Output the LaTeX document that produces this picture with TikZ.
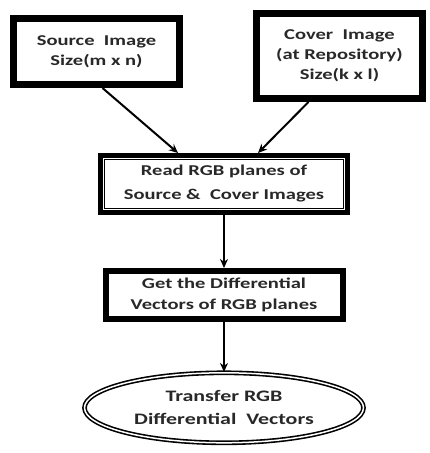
\documentclass[tikz,border=0pt]{standalone}
\usepackage{fontspec}
\setmainfont{Carlito}[FakeStretch=1.37]
\usepackage{tikz}
\usetikzlibrary{shapes.geometric,arrows.meta,positioning,calc}
\usepackage{xcolor}
\definecolor{inkgray}{RGB}{40,40,40}
\tikzset{
  heavybox/.style = {rectangle, draw, line width=7pt, fill=white, text=inkgray,
    align=center, font=\fontsize{15}{20}\selectfont\bfseries, inner sep=0pt},
  framedbox/.style = {rectangle, draw, line width=5pt, fill=white, text=inkgray,
    align=center, font=\fontsize{15}{24}\selectfont\bfseries, inner sep=0pt},
  plainbox/.style = {rectangle, draw, line width=6pt, fill=white, text=inkgray,
    align=center, font=\fontsize{15}{21}\selectfont\bfseries, inner sep=0pt},
  terminal/.style = {ellipse, draw, double, double distance=1.5pt, line width=1.6pt,
    text=inkgray, align=center, font=\fontsize{16}{23}\selectfont\bfseries, inner sep=0pt},
  arrow/.style = {line width=2pt, -{Stealth[length=9pt, width=8pt]}}
}

\begin{document}
\begin{tikzpicture}[x=1pt, y=-1pt, node distance=53pt]
\useasboundingbox (0,0) rectangle (429,453);

\node[heavybox, minimum width=166pt, minimum height=66pt] (src) at (96.5,51.5)
  {Source\ \ Image\\ Size(m x n)};
\node[heavybox, minimum width=166pt, minimum height=85pt] (cov) at (339.5,56)
  {Cover\ \ Image\\ (at Repository)\\ Size(k x l)};

\node[framedbox, minimum width=247pt, minimum height=57pt] (read) at (224,184)
  {Read RGB planes of\\ Source \&\ \ Cover Images};
\draw[line width=1.5pt] ([shift={(6.5pt,-6.5pt)}]read.north west) rectangle ([shift={(-6.5pt,6.5pt)}]read.south east);

\node[plainbox, below=of read, minimum width=237pt, minimum height=48pt] (diff)
  {Get the Differential\\ Vectors of RGB planes};
\node[terminal, below=50pt of diff, minimum width=279pt, minimum height=70pt] (send)
  {Transfer RGB\\ Differential\ \ Vectors};

\draw[arrow] ([xshift=6pt]src.south)   -- ([xshift=-46pt]read.north);
\draw[arrow] ([xshift=-31pt]cov.south) -- ([xshift=34pt]read.north);
\draw[arrow] (read) -- (diff);
\draw[arrow] (diff) -- (send);

\end{tikzpicture}
\end{document}
